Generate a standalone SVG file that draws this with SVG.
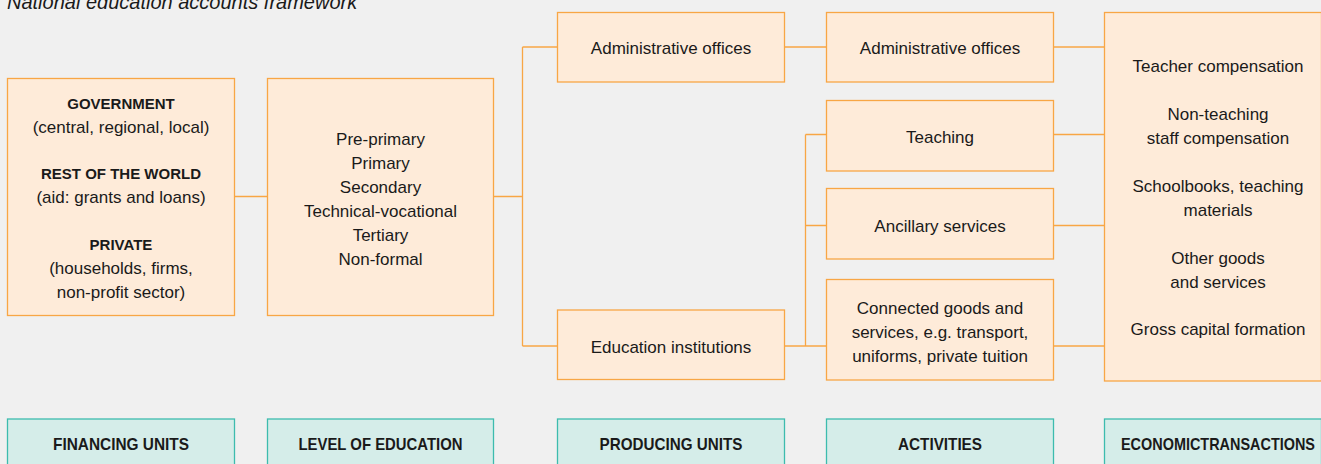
<svg xmlns="http://www.w3.org/2000/svg" width="1321" height="464" viewBox="0 0 1321 464">
<style>
.bg{fill:#f0f0f0}
.box{fill:#feebd9;stroke:#f8a645;stroke-width:1.3}
.leg{fill:#d5ede9;stroke:#3dbcae;stroke-width:1.3}
.ln{fill:none;stroke:#f8a645;stroke-width:1.3}
text{font-family:"Liberation Sans",Arial,sans-serif;fill:#1a1a1a;text-anchor:middle}
.t{font-size:17px}
.b{font-size:15px;font-weight:bold}
.l{font-size:17px;font-weight:bold}
.title{font-size:20px;font-style:italic;text-anchor:start}
</style>
<rect class="bg" x="0" y="0" width="1321" height="464"/>
<text class="title" x="7" y="9">National education accounts framework</text>

<g id="connectors">
<path class="ln" d="M234.5 196.5H267.5"/>
<path class="ln" d="M493.5 196.5H522.5M522.5 47V346M522.5 47H557.5M522.5 346H557.5"/>
<path class="ln" d="M784.5 47H826.5"/>
<path class="ln" d="M784.5 346H826.5M805.5 134.5V346M805.5 134.5H826.5M805.5 225.5H826.5"/>
<path class="ln" d="M1053.5 47H1104.5M1053.5 134.5H1104.5M1053.5 225.5H1104.5M1053.5 346H1104.5"/>
</g>

<g id="financing">
<rect class="box" x="7.5" y="78.5" width="227" height="237"/>
<text class="b" x="121" y="109">GOVERNMENT</text>
<text class="t" x="121" y="133">(central, regional, local)</text>
<text class="b" x="121" y="179">REST OF THE WORLD</text>
<text class="t" x="121" y="203">(aid: grants and loans)</text>
<text class="b" x="121" y="250">PRIVATE</text>
<text class="t" x="121" y="274">(households, firms,</text>
<text class="t" x="121" y="298">non-profit sector)</text>
</g>

<g id="level">
<rect class="box" x="267.5" y="78.5" width="226" height="237"/>
<text class="t" x="380.5" y="145">Pre-primary</text>
<text class="t" x="380.5" y="169">Primary</text>
<text class="t" x="380.5" y="193">Secondary</text>
<text class="t" x="380.5" y="217">Technical-vocational</text>
<text class="t" x="380.5" y="241">Tertiary</text>
<text class="t" x="380.5" y="265">Non-formal</text>
</g>

<g id="prod-admin">
<rect class="box" x="557.5" y="12.5" width="227" height="69.5"/>
<text class="t" x="671" y="54">Administrative offices</text>
</g>
<g id="prod-edu">
<rect class="box" x="557.5" y="310" width="227" height="69.5"/>
<text class="t" x="671" y="352.5">Education institutions</text>
</g>

<g id="act-admin">
<rect class="box" x="826.5" y="12.5" width="227" height="69.5"/>
<text class="t" x="940" y="54">Administrative offices</text>
</g>
<g id="act-teaching">
<rect class="box" x="826.5" y="100.5" width="227" height="70.5"/>
<text class="t" x="940" y="143">Teaching</text>
</g>
<g id="act-ancillary">
<rect class="box" x="826.5" y="188.5" width="227" height="70.5"/>
<text class="t" x="940" y="231.5">Ancillary services</text>
</g>
<g id="act-connected">
<rect class="box" x="826.5" y="279.5" width="227" height="100.5"/>
<text class="t" x="940" y="313.5">Connected goods and</text>
<text class="t" x="940" y="337.5">services, e.g. transport,</text>
<text class="t" x="940" y="361.5">uniforms, private tuition</text>
</g>

<g id="economic">
<rect class="box" x="1104.5" y="12.5" width="217" height="368.5"/>
<text class="t" x="1218" y="71.5">Teacher compensation</text>
<text class="t" x="1218" y="119.5">Non-teaching</text>
<text class="t" x="1218" y="143.5">staff compensation</text>
<text class="t" x="1218" y="191.5">Schoolbooks, teaching</text>
<text class="t" x="1218" y="215.5">materials</text>
<text class="t" x="1218" y="263.5">Other goods</text>
<text class="t" x="1218" y="287.5">and services</text>
<text class="t" x="1218" y="335">Gross capital formation</text>
</g>

<g id="legend-financing">
<rect class="leg" x="7.5" y="419" width="227" height="60"/>
<text class="l" x="121" y="450" textLength="136" lengthAdjust="spacingAndGlyphs">FINANCING UNITS</text>
</g>
<g id="legend-level">
<rect class="leg" x="267.5" y="419" width="226" height="60"/>
<text class="l" x="380.5" y="450" textLength="164" lengthAdjust="spacingAndGlyphs">LEVEL OF EDUCATION</text>
</g>
<g id="legend-producing">
<rect class="leg" x="557.5" y="419" width="227" height="60"/>
<text class="l" x="671" y="450" textLength="143" lengthAdjust="spacingAndGlyphs">PRODUCING UNITS</text>
</g>
<g id="legend-activities">
<rect class="leg" x="826.5" y="419" width="227" height="60"/>
<text class="l" x="940" y="450" textLength="84" lengthAdjust="spacingAndGlyphs">ACTIVITIES</text>
</g>
<g id="legend-economic">
<rect class="leg" x="1104.5" y="419" width="217" height="60"/>
<text class="l" x="1218" y="450" textLength="194" lengthAdjust="spacingAndGlyphs">ECONOMICTRANSACTIONS</text>
</g>
</svg>
